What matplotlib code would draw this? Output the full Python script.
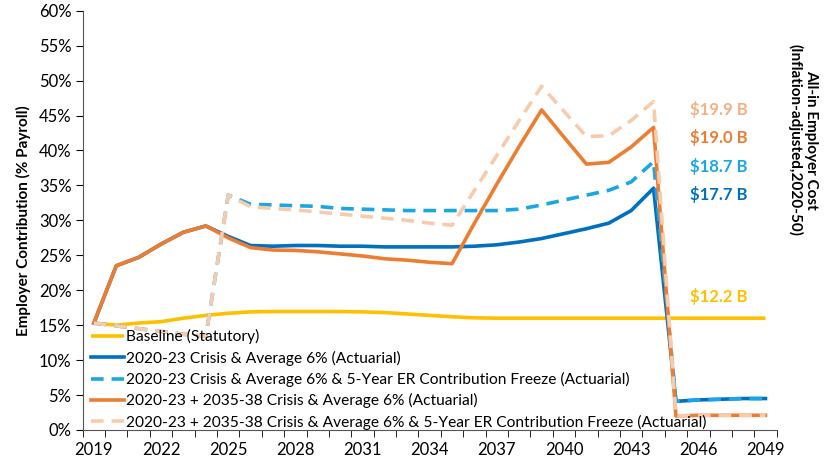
import numpy as np
import matplotlib.pyplot as plt
from matplotlib.ticker import PercentFormatter, MultipleLocator, FixedLocator

plt.rcParams['font.family'] = ['Lato', 'DejaVu Sans']

years = list(range(2019, 2050))

baseline = [15.3, 15.0, 15.3, 15.5, 16.0, 16.4, 16.7, 16.9, 16.95, 16.95,
            16.95, 16.95, 16.9, 16.8, 16.6, 16.4, 16.2, 16.05, 16.0, 16.0,
            16.0, 16.0, 16.0, 16.0, 16.0, 16.0, 16.0, 16.0, 16.0, 16.0, 16.0]

crisis = [15.3, 23.5, 24.7, 26.6, 28.3, 29.2, 27.7, 26.4, 26.3, 26.4,
          26.4, 26.3, 26.3, 26.2, 26.2, 26.2, 26.2, 26.3, 26.5, 26.9,
          27.4, 28.1, 28.8, 29.6, 31.4, 34.6, 4.1, 4.3, 4.4, 4.5, 4.5]

crisis_freeze = [15.3, 14.9, 14.5, 14.1, 13.7, 13.4, 33.6, 32.3, 32.2, 32.1,
                 32.0, 31.7, 31.6, 31.5, 31.4, 31.4, 31.4, 31.4, 31.4, 31.6,
                 32.2, 32.9, 33.6, 34.3, 35.5, 38.4, 4.1, 4.3, 4.4, 4.5, 4.5]

double = [15.3, 23.5, 24.7, 26.6, 28.3, 29.2, 27.5, 26.1, 25.75, 25.7,
          25.5, 25.2, 24.9, 24.5, 24.3, 24.0, 23.8, 29.6, 35.2, 40.6,
          45.8, 41.9, 38.05, 38.3, 40.5, 43.3, 2.0, 2.1, 2.1, 2.1, 2.1]

double_freeze = [15.3, 14.9, 14.5, 14.1, 13.7, 13.4, 33.6, 31.95, 31.7, 31.5,
                 31.2, 30.9, 30.6, 30.3, 30.0, 29.6, 29.3, 34.3, 39.3, 44.3,
                 49.2, 45.6, 42.0, 42.1, 44.3, 47.0, 2.0, 2.1, 2.1, 2.1, 2.1]

labels = ['Baseline (Statutory)',
          '2020-23 Crisis & Average 6% (Actuarial)',
          '2020-23 Crisis & Average 6% & 5-Year ER Contribution Freeze (Actuarial)',
          '2020-23 + 2035-38 Crisis & Average 6% (Actuarial)',
          '2020-23 + 2035-38 Crisis & Average 6% & 5-Year ER Contribution Freeze (Actuarial)']
costs = ['$12.2 B', '$17.7 B', '$18.7 B', '$19.0 B', '$19.9 B']
cost_y = [19.1, 33.7, 37.7, 41.8, 45.8]

YELLOW = '#FFC000'
BLUE = '#0070C0'
LBLUE = '#1AA7E6'
ORANGE = '#ED7D31'
PEACH = '#F8CBAD'

fig = plt.figure(figsize=(8.26, 4.66), dpi=100)
ax = fig.add_axes([0.1001, 0.0773, 0.8402, 0.8997])

x = np.arange(len(years))
lw = 2.6
ax.plot(x, baseline, color=YELLOW, lw=lw, label=labels[0], solid_capstyle='butt')
ax.plot(x, crisis, color=BLUE, lw=lw, label=labels[1])
ax.plot(x, crisis_freeze, color=LBLUE, lw=lw, ls=(0, (3.5, 2.2)), label=labels[2])
ax.plot(x, double, color=ORANGE, lw=lw, label=labels[3])
ax.plot(x, double_freeze, color=PEACH, lw=lw, ls=(0, (3.5, 2.2)), label=labels[4])

# cost labels on the right
for txt, yy, col in zip(costs, cost_y, [YELLOW, BLUE, LBLUE, ORANGE, '#F4B183']):
    ax.text(27.9, yy, txt, color=col, fontsize=12, fontweight='bold',
            ha='center', va='center')

ax.set_xlim(-0.5, len(years) - 0.5)
ax.set_ylim(0, 60)
ax.yaxis.set_major_locator(MultipleLocator(5))
ax.yaxis.set_major_formatter(PercentFormatter(decimals=0))
ax.xaxis.set_major_locator(FixedLocator(x[::3]))
ax.set_xticklabels([str(y) for y in years[::3]])
ax.xaxis.set_minor_locator(FixedLocator(np.arange(-0.5, len(years), 1)))
ax.tick_params(axis='x', which='major', length=0, pad=9, labelsize=12)
ax.tick_params(axis='x', which='minor', length=5, direction='out', color='black')
ax.tick_params(axis='y', length=5, labelsize=12, pad=3)

for s in ['top', 'right']:
    ax.spines[s].set_visible(False)
ax.spines['left'].set_color('#555555')
ax.spines['bottom'].set_color('#555555')

ax.set_ylabel('Employer Contribution (% Payroll)', fontsize=11, fontweight='bold',
              labelpad=6)
fig.text(0.972, 0.70, 'All-in Employer Cost\n(Inflation-adjusted,2020-50)',
         rotation=-90, ha='center', va='center', fontsize=11, fontweight='bold',
         linespacing=1.1)

ax.legend(loc='lower left', bbox_to_anchor=(-0.003, -0.025), frameon=False,
          fontsize=11.2, handlelength=2.1, handletextpad=0.1, labelspacing=0.4,
          borderaxespad=0.3)

fig.savefig('out.png', dpi=100)
